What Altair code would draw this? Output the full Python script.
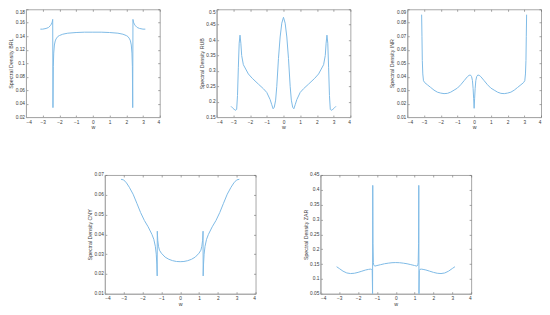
import altair as alt
import pandas as pd

# ---------------- data ----------------
brl_w = [-3.14,-3.0,-2.8,-2.65,-2.55,-2.48,-2.43,-2.40,-2.385,-2.365,-2.34,-2.30,-2.25,-2.2,-2.1,-2.0,-1.8,-1.5,-1.0,-0.5,
         0.0,
         0.5,1.0,1.5,1.8,2.0,2.1,2.2,2.25,2.30,2.34,2.365,2.385,2.40,2.43,2.48,2.55,2.65,2.8,3.0,3.14]
brl_v = [0.1505,0.1505,0.1515,0.153,0.1555,0.158,0.161,0.165,0.034,0.095,0.115,0.127,0.133,0.136,0.1395,0.141,0.143,0.1445,0.1455,0.146,
         0.146,
         0.146,0.1455,0.1445,0.143,0.141,0.1395,0.136,0.133,0.127,0.115,0.095,0.034,0.165,0.161,0.158,0.1555,0.153,0.1515,0.1505,0.1505]

rub_w = [-3.14,-3.05,-2.95,-2.85,-2.8,-2.75,-2.7,-2.65,-2.6,-2.55,-2.5,-2.4,-2.26,-2.1,-1.87,-1.5,-1.2,-1.0,-0.8,-0.7,-0.62,-0.55,-0.47,-0.4,-0.3,-0.2,-0.1,
         0.0,
         0.1,0.2,0.3,0.4,0.47,0.55,0.62,0.7,0.8,1.0,1.2,1.5,1.87,2.1,2.26,2.4,2.5,2.55,2.6,2.65,2.7,2.75,2.8,2.85,2.95,3.05,3.14]
rub_v = [0.185,0.18,0.175,0.172,0.175,0.22,0.31,0.39,0.416,0.39,0.35,0.32,0.306,0.29,0.276,0.257,0.242,0.23,0.207,0.19,0.177,0.182,0.205,0.25,0.34,0.41,0.455,
         0.474,
         0.455,0.41,0.34,0.25,0.205,0.182,0.177,0.19,0.207,0.23,0.242,0.257,0.276,0.29,0.306,0.32,0.35,0.39,0.416,0.39,0.31,0.22,0.175,0.172,0.175,0.18,0.185]

inr_w = [-3.14,-3.12,-3.10,-3.07,-3.03,-2.95,-2.8,-2.6,-2.4,-2.2,-2.0,-1.8,-1.6,-1.4,-1.2,-1.0,-0.8,-0.6,-0.4,-0.3,-0.22,-0.15,-0.1,-0.06,-0.03,
         0.0,
         0.03,0.06,0.1,0.15,0.22,0.3,0.4,0.6,0.8,1.0,1.2,1.4,1.6,1.8,2.0,2.2,2.4,2.6,2.8,2.95,3.03,3.07,3.10,3.12,3.14]
inr_v = [0.086,0.070,0.052,0.042,0.037,0.0355,0.034,0.032,0.030,0.0285,0.0278,0.0274,0.0276,0.0285,0.030,0.0315,0.034,0.037,0.040,0.041,0.0412,0.040,0.037,0.031,0.024,
         0.0165,
         0.024,0.031,0.037,0.040,0.0412,0.041,0.040,0.037,0.034,0.0315,0.030,0.0285,0.0276,0.0274,0.0278,0.0285,0.030,0.032,0.034,0.0355,0.037,0.042,0.052,0.070,0.086]

cny_w = [-3.14,-3.0,-2.85,-2.7,-2.5,-2.3,-2.1,-1.9,-1.7,-1.5,-1.4,-1.32,-1.27,-1.24,-1.22,-1.215,-1.19,-1.15,-1.1,-1.0,-0.8,-0.6,-0.4,-0.2,
         0.0,
         0.2,0.4,0.6,0.8,1.0,1.1,1.15,1.19,1.215,1.22,1.24,1.27,1.32,1.4,1.5,1.7,1.9,2.1,2.3,2.5,2.7,2.85,3.0,3.14]
cny_v = [0.0678,0.0675,0.066,0.0638,0.0603,0.0557,0.051,0.047,0.0438,0.040,0.0375,0.034,0.030,0.025,0.019,0.0416,0.037,0.034,0.032,0.0305,0.0285,0.0274,0.0267,0.0263,
         0.0262,
         0.0263,0.0267,0.0274,0.0285,0.0305,0.032,0.034,0.037,0.0416,0.019,0.025,0.030,0.034,0.0375,0.040,0.0438,0.047,0.051,0.0557,0.0603,0.0638,0.066,0.0675,0.0678]

zar_w = [-3.14,-3.0,-2.8,-2.6,-2.4,-2.2,-2.0,-1.8,-1.6,-1.45,-1.35,-1.28,-1.25,-1.232,-1.222,-1.21,-1.19,-1.17,-1.12,-1.0,-0.8,-0.6,-0.4,-0.2,
         0.0,
         0.2,0.4,0.6,0.8,1.0,1.12,1.17,1.19,1.21,1.222,1.232,1.25,1.28,1.35,1.45,1.6,1.8,2.0,2.2,2.4,2.6,2.8,3.0,3.14]
zar_v = [0.141,0.135,0.126,0.120,0.118,0.119,0.122,0.126,0.130,0.132,0.133,0.132,0.128,0.05,0.415,0.22,0.155,0.147,0.143,0.145,0.148,0.151,0.153,0.1545,
         0.155,
         0.1545,0.153,0.151,0.148,0.145,0.143,0.147,0.155,0.22,0.415,0.05,0.128,0.132,0.133,0.132,0.130,0.126,0.122,0.119,0.118,0.120,0.126,0.135,0.141]

x_ticks = [-4, -3, -2, -1, 0, 1, 2, 3, 4]
brl_ticks = [0.02, 0.04, 0.06, 0.08, 0.1, 0.12, 0.14, 0.16, 0.18]
rub_ticks = [0.15, 0.2, 0.25, 0.3, 0.35, 0.4, 0.45, 0.5]
inr_ticks = [0.01, 0.02, 0.03, 0.04, 0.05, 0.06, 0.07, 0.08, 0.09]
cny_ticks = [0.01, 0.02, 0.03, 0.04, 0.05, 0.06, 0.07]
zar_ticks = [0.05, 0.1, 0.15, 0.2, 0.25, 0.3, 0.35, 0.4, 0.45]

# ---------------- styling ----------------
LINE = "#7fbbe6"
BOX = "#a8a8a8"
TICK = "#6a6a6a"
TEXT = "#3a3a3a"
FONT = "Liberation Sans"


def panel(ws, vs, name, yticks, w, h, flush_top):
    df = pd.DataFrame({"w": ws, "v": vs})
    ymin, ymax = yticks[0], yticks[-1]
    ybase = {"expr": "datum.value >= %f ? 'top' : 'middle'" % (ymax - 1e-6)} if flush_top else "middle"
    return alt.Chart(df).mark_line(color=LINE, strokeWidth=1).encode(
        x=alt.X("w:Q", title="w",
                scale=alt.Scale(domain=[-4, 4], nice=False, zero=False),
                axis=alt.Axis(values=x_ticks, format="~g", grid=True,
                              gridDash=[2, h - 4], gridColor=TICK, gridWidth=0.6,
                              ticks=False, domainColor=BOX, domainWidth=1,
                              labelPadding=2, titlePadding=1)),
        y=alt.Y("v:Q", title=f"Spectral Density {name}",
                scale=alt.Scale(domain=[ymin, ymax], nice=False, zero=False),
                axis=alt.Axis(values=yticks, format="~g", grid=True,
                              gridDash=[2, w - 4], gridColor=TICK, gridWidth=0.6,
                              ticks=False, domainColor=BOX, domainWidth=1,
                              labelPadding=1.5, titlePadding=1.5,
                              labelBaseline=ybase)),
        order=alt.Order("w:Q"),
    ).properties(width=w, height=h)


TW, TH = 134, 108
BW, BH = 151, 119

p_brl = panel(brl_w, brl_v, "BRL", brl_ticks, TW, TH, True)
p_rub = panel(rub_w, rub_v, "RUB", rub_ticks, TW, TH, True)
p_inr = panel(inr_w, inr_v, "INR", inr_ticks, TW, TH, True)
p_cny = panel(cny_w, cny_v, "CNY", cny_ticks, BW, BH, False)
p_zar = panel(zar_w, zar_v, "ZAR", zar_ticks, BW, BH, False)

spacer = alt.Chart(pd.DataFrame({"a": [0]})).mark_point(opacity=0).encode(
    x=alt.X("a:Q", axis=None), y=alt.Y("a:Q", axis=None)
).properties(width=14, height=BH, view=alt.ViewBackground(stroke="transparent"))

top = alt.hconcat(p_brl, p_rub, p_inr, spacing=57, bounds="flush")
bottom = alt.hconcat(spacer, p_cny, p_zar, spacing=65, bounds="flush")

chart = alt.vconcat(top, bottom, spacing=40).properties(
    padding=0, background="white"
).configure_view(stroke=BOX, strokeWidth=1).configure_axis(
    labelFont=FONT, titleFont=FONT, labelFontSize=4.8, titleFontSize=5.3,
    labelColor=TEXT, titleColor=TEXT, titleFontWeight="normal"
)

chart.save("out.html", embed_options={"renderer": "svg", "actions": False})
